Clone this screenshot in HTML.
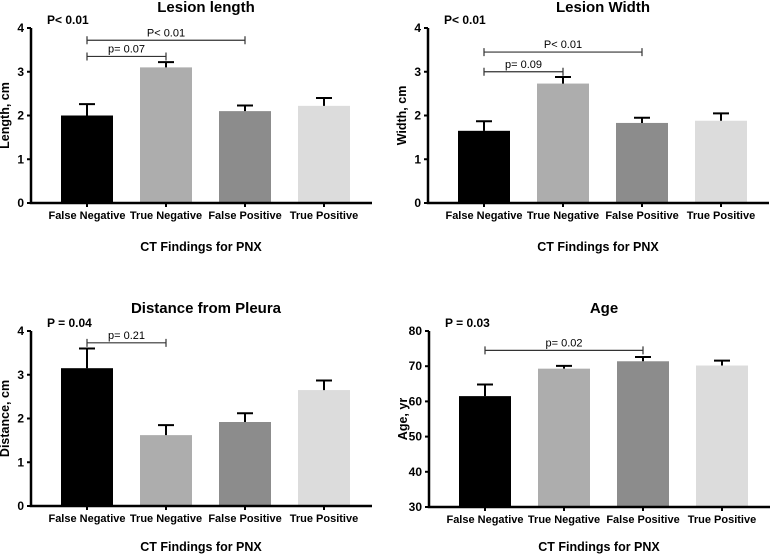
<!DOCTYPE html>
<html><head><meta charset="utf-8"><style>
body{margin:0;background:#fff;width:778px;height:555px;overflow:hidden}
svg{font-family:"Liberation Sans",Arial,sans-serif;font-weight:bold}
</style></head><body>
<svg id="s" width="778" height="555"></svg>
<script>
const categories=["False Negative","True Negative","False Positive","True Positive"];
const colors=["#000000","#adadad","#8c8c8c","#dcdcdc"];
const lengthVals=[2.0,3.1,2.1,2.22];
const lengthErr=[0.26,0.12,0.13,0.18];
const widthVals=[1.65,2.73,1.83,1.88];
const widthErr=[0.22,0.15,0.12,0.17];
const distVals=[3.15,1.62,1.92,2.65];
const distErr=[0.45,0.23,0.2,0.22];
const ageVals=[61.5,69.3,71.4,70.2];
const ageErr=[3.3,0.8,1.2,1.4];
const cmTicks=[0,1,2,3,4];
const ageTicks=[30,40,50,60,70,80];
const lengthBrackets=[[0,1,3.35,"p= 0.07"],[0,2,3.72,"P< 0.01"]];
const widthBrackets=[[0,1,3.0,"p= 0.09"],[0,2,3.45,"P< 0.01"]];
const distBrackets=[[0,1,3.73,"p= 0.21"]];
const ageBrackets=[[0,2,74.5,"p= 0.02"]];

const NS="http://www.w3.org/2000/svg";
const svg=document.getElementById('s');
function mk(t,a,p,txt){const e=document.createElementNS(NS,t);for(const k in a)e.setAttribute(k,a[k]);if(txt!==undefined)e.textContent=txt;(p||svg).appendChild(e);return e;}

function panel(o){
  const g=mk('g',{});
  
  
  const ax=o.ax, y0=o.y0, y1=o.y1, lo=o.ticks[0], hi=o.ticks[o.ticks.length-1];
  const ys=v=>y0-(v-lo)/(hi-lo)*(y0-y1);
  const xs=i=>ax+30+26+i*79;
  const t=mk('text',{x:ax+175,y:o.titleY,'text-anchor':'middle','font-size':15},g,o.title);
  
  const pv=mk('text',{x:ax+16,y:y1-4,'font-size':12},g,o.p);
  
  o.vals.forEach((v,i)=>{
    const cx=xs(i),top=ys(v),et=ys(v+o.err[i]);
    const b=mk('rect',{x:cx-26,y:top,width:52,height:y0-top,fill:colors[i]},g);
    
    
    const e=mk('path',{d:`M${cx} ${top}V${et}M${cx-8} ${et}H${cx+8}`,stroke:'#000','stroke-width':2,fill:'none'},g);
    
    const l=mk('text',{x:cx,y:y0+16,'text-anchor':'middle','font-size':11},g,categories[i]);
    
    mk('line',{x1:cx,x2:cx,y1:y0,y2:y0+4,stroke:'#000','stroke-width':2},g);
  });
  mk('path',{d:`M${ax} ${y1}V${y0}H${ax+341}`,stroke:'#000','stroke-width':2.5,fill:'none'},g);
  o.ticks.forEach(tv=>{
    const y=ys(tv);
    mk('line',{x1:ax-4,x2:ax,y1:y,y2:y,stroke:'#000','stroke-width':2},g);
    const tl=mk('text',{x:ax-7,y:y+4,'text-anchor':'end','font-size':12},g,tv);
    
  });
  o.br.forEach(b=>{
    const xa=xs(b[0]),xb=xs(b[1]),y=ys(b[2]);
    const p=mk('path',{d:`M${xa} ${y-4}V${y+4}M${xa} ${y}H${xb}M${xb} ${y-4}V${y+4}`,stroke:'#333','stroke-width':1.2,fill:'none'},g);
    
    mk('text',{x:(xa+xb)/2,y:y-4,'text-anchor':'middle','font-size':11,'font-weight':'normal'},g,b[3]);
  });
  const yt=mk('text',{transform:`translate(${ax-22},${(y0+y1)/2}) rotate(-90)`,'text-anchor':'middle','font-size':12.5},g,o.ylabel);
  
  const xt=mk('text',{x:ax+170,y:o.xtY,'text-anchor':'middle','font-size':12.5},g,'CT Findings for PNX');
  
}
panel({name:'lesion-length-panel',ax:31,y0:203,y1:28,ticks:cmTicks,vals:lengthVals,err:lengthErr,br:lengthBrackets,title:'Lesion length',titleY:12,p:'P< 0.01',ylabel:'Length, cm',xtY:251});
panel({name:'lesion-width-panel',ax:428,y0:203,y1:28,ticks:cmTicks,vals:widthVals,err:widthErr,br:widthBrackets,title:'Lesion Width',titleY:12,p:'P< 0.01',ylabel:'Width, cm',xtY:251});
panel({name:'distance-panel',ax:31,y0:506,y1:331,ticks:cmTicks,vals:distVals,err:distErr,br:distBrackets,title:'Distance from Pleura',titleY:313,p:'P = 0.04',ylabel:'Distance, cm',xtY:551});
panel({name:'age-panel',ax:429,y0:507,y1:331,ticks:ageTicks,vals:ageVals,err:ageErr,br:ageBrackets,title:'Age',titleY:313,p:'P = 0.03',ylabel:'Age, yr',xtY:551});
</script>
</body></html>
